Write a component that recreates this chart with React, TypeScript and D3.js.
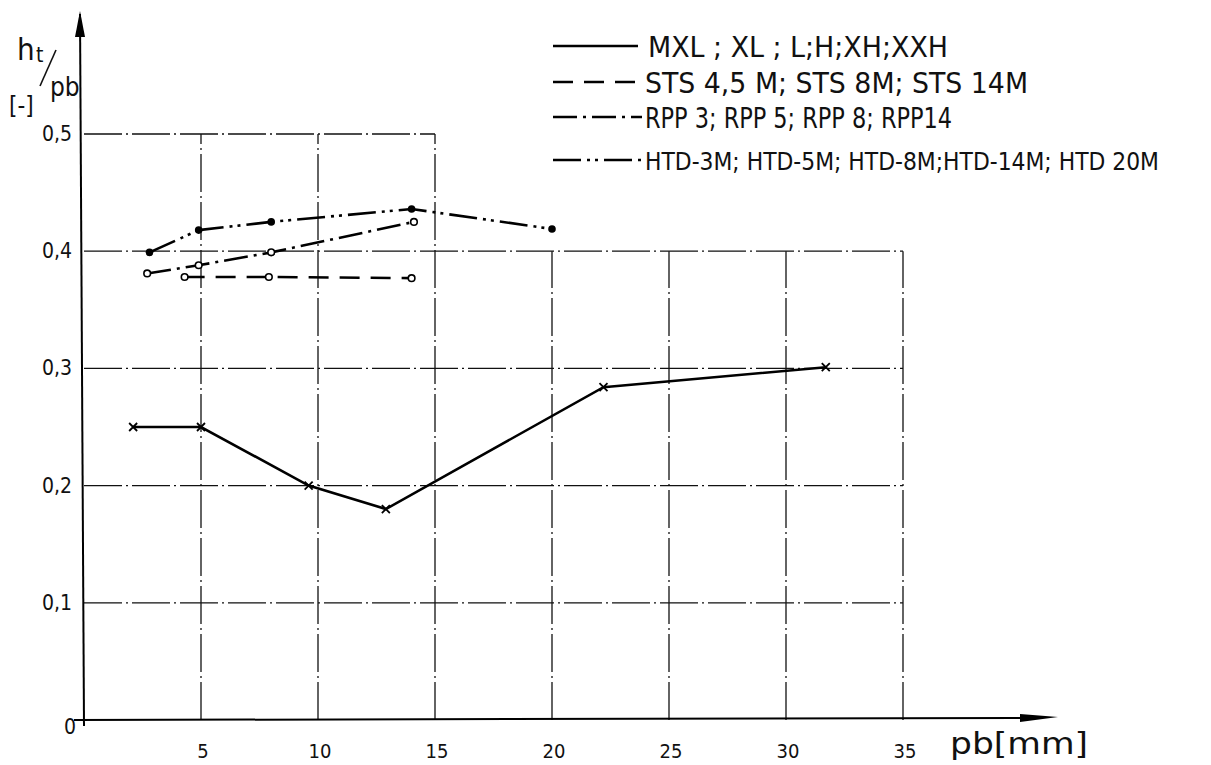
import React from 'react';
import * as d3 from 'd3';

// belt pitch pb [mm] vs tooth height ratio ht/pb
const mxlPitch = [2.1, 5.0, 9.6, 12.9, 22.2, 31.7];
const mxlRatio = [0.25, 0.25, 0.2, 0.18, 0.284, 0.301];

const stsPitch = [4.3, 7.9, 14.0];
const stsRatio = [0.378, 0.378, 0.377];

const rppPitch = [2.7, 4.9, 8.0, 14.1];
const rppRatio = [0.381, 0.388, 0.399, 0.425];

const htdPitch = [2.8, 4.9, 8.0, 14.0, 20.0];
const htdRatio = [0.399, 0.418, 0.425, 0.436, 0.419];

const legendLabels = [
  'MXL ; XL ; L;H;XH;XXH',
  'STS  4,5 M; STS 8M; STS 14M',
  'RPP 3; RPP 5; RPP 8; RPP14',
  'HTD-3M; HTD-5M; HTD-8M;HTD-14M; HTD 20M',
];
const legendWidths = [300, 383, 307, 514];

const xTicks = [5, 10, 15, 20, 25, 30, 35];
const yTicks = [0.1, 0.2, 0.3, 0.4, 0.5];

const FONT = '"DejaVu Sans Condensed", "DejaVu Sans", sans-serif';

export default function App() {
  const width = 1211;
  const height = 765;

  const x = d3.scaleLinear().domain([0, 35]).range([84, 903]);
  const y = d3.scaleLinear().domain([0, 0.5]).range([720, 134]);

  const line = d3.line<[number, number]>()
    .x(d => x(d[0]))
    .y(d => y(d[1]));

  const zip = (a: number[], b: number[]) => a.map((v, i) => [v, b[i]] as [number, number]);

  const series = [
    { pts: zip(mxlPitch, mxlRatio), dash: 'none', marker: 'x' },
    { pts: zip(stsPitch, stsRatio), dash: '20 11', marker: 'open' },
    { pts: zip(rppPitch, rppRatio), dash: '24 6 3 6', marker: 'open' },
    { pts: zip(htdPitch, htdRatio), dash: '28 6 3 5 3 6', marker: 'dot' },
  ];

  const gridDash = '38 4 2 4';
  const fmt = (v: number) => d3.format('.1f')(v).replace('.', ',');

  return (
    <svg width={width} height={height} style={{ position: 'absolute', left: 0, top: 0, background: '#fff' }}>
      {/* grid */}
      <g stroke="#111" strokeWidth={1.3} fill="none">
        {yTicks.map(t => (
          <line key={'h' + t} x1={x(0)} x2={t > 0.45 ? x(15) : x(35)} y1={y(t)} y2={y(t)} strokeDasharray={gridDash} />
        ))}
        {xTicks.map(t => (
          <line key={'v' + t} x1={x(t)} x2={x(t)} y1={y(0)} y2={t <= 15 ? y(0.5) : y(0.4)} strokeDasharray={gridDash} />
        ))}
      </g>

      {/* axes */}
      <g stroke="#000" strokeWidth={2} fill="none">
        <line x1={x(0)} y1={y(0) + 6} x2={x(0) - 4} y2={14} />
        <line x1={x(0) - 10} y1={y(0)} x2={1040} y2={y(0) - 2} />
      </g>
      <path d={`M${x(0) - 9},37 L${x(0) - 4},11 L${x(0) + 1},37 Z`} fill="#000" />
      <path d="M1020,714 L1058,717 L1020,722 Z" fill="#000" />

      {/* tick labels */}
      <g fontFamily={FONT} fontSize={21} fill="#111">
        {yTicks.map(t => (
          <text key={'yl' + t} x={x(0) - 12} y={y(t) + 7} textAnchor="end">{fmt(t)}</text>
        ))}
        <text x={x(0) - 8} y={y(0) + 14} textAnchor="end">0</text>
        {xTicks.map(t => (
          <text key={'xl' + t} x={x(t) + 2} y={y(0) + 38} fontSize={20} textAnchor="middle">{t}</text>
        ))}
      </g>

      {/* axis titles */}
      <g fontFamily={FONT} fill="#111">
        <text x={17} y={60} fontSize={31}>h</text>
        <text x={36} y={62} fontSize={21}>t</text>
        <line x1={40} y1={86} x2={56} y2={50} stroke="#111" strokeWidth={1.6} />
        <text x={50} y={96} fontSize={26}>pb</text>
        <text x={9} y={114} fontSize={24}>[-]</text>
        <text x={950} y={754} fontSize={30} textLength={138} lengthAdjust="spacingAndGlyphs">pb[mm]</text>
      </g>

      {/* series */}
      {series.map((s, i) => (
        <g key={'s' + i}>
          <path d={line(s.pts) || ''} fill="none" stroke="#000" strokeWidth={2.6} strokeDasharray={s.dash} />
          {s.pts.map((p, j) => {
            const cx = x(p[0]);
            const cy = y(p[1]);
            if (s.marker === 'x') {
              return (
                <path key={j} d={`M${cx - 4},${cy - 4}L${cx + 4},${cy + 4}M${cx + 4},${cy - 4}L${cx - 4},${cy + 4}`} stroke="#000" strokeWidth={1.8} />
              );
            }
            if (s.marker === 'open') {
              return <circle key={j} cx={cx} cy={cy} r={3.3} fill="#fff" stroke="#000" strokeWidth={1.6} />;
            }
            return <circle key={j} cx={cx} cy={cy} r={3.8} fill="#000" />;
          })}
        </g>
      ))}

      {/* legend */}
      {legendLabels.map((label, i) => {
        const ly = [46, 82, 117, 160][i];
        return (
          <g key={'lg' + i}>
            <line x1={553} x2={i === 0 ? 638 : 642} y1={ly} y2={ly} stroke="#000" strokeWidth={2.6}
              strokeDasharray={series[i].dash} />
            <text x={i === 0 ? 648 : 645} y={ly + (i === 3 ? 10 : 11)} fontFamily={FONT}
              fontSize={i === 3 ? 25 : 29} fill="#111"
              textLength={legendWidths[i]} lengthAdjust="spacingAndGlyphs">{label}</text>
          </g>
        );
      })}
    </svg>
  );
}
